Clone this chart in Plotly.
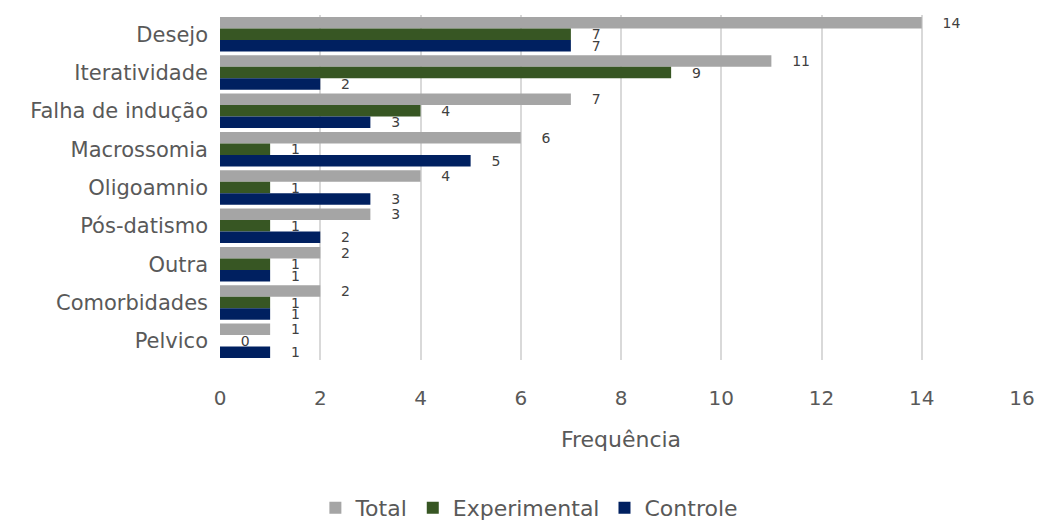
import plotly.graph_objects as go

categories = ["Desejo", "Iteratividade", "Falha de indução", "Macrossomia", "Oligoamnio",
              "Pós-datismo", "Outra", "Comorbidades", "Pelvico"]
total = [14, 11, 7, 6, 4, 3, 2, 2, 1]
experimental = [7, 9, 4, 1, 1, 1, 1, 1, 0]
controle = [7, 2, 3, 5, 3, 2, 1, 1, 1]
x_ticks = [0, 2, 4, 6, 8, 10, 12, 14, 16]

series = [("Total", total, "#A5A5A5"),
          ("Experimental", experimental, "#375623"),
          ("Controle", controle, "#002060")]

FONT = "'DejaVu Sans', sans-serif"
fig = go.Figure()
for name, vals, color in series:
    fig.add_trace(go.Bar(
        y=categories, x=vals, name=name, orientation="h",
        marker=dict(color=color, line=dict(width=0)),
        text=vals, texttemplate="    %{x}", textposition="outside",
        textfont=dict(size=14, color="#404040", family=FONT),
        constraintext="none", cliponaxis=False,
    ))

fig.update_layout(
    width=1038, height=529,
    barmode="group", bargap=0.1, bargroupgap=0,
    plot_bgcolor="white", paper_bgcolor="white",
    margin=dict(l=220, r=16, t=15, b=169),
    font=dict(family=FONT, color="#595959", size=16),
    showlegend=True,
    legend=dict(orientation="h", xref="container", yref="container",
                x=0.51, xanchor="center", y=-0.03, yanchor="bottom",
                font=dict(size=22, color="#595959"), itemwidth=30,
                traceorder="normal"),
    xaxis=dict(range=[0, 16], tickvals=x_ticks, showgrid=True, automargin=False,
               gridcolor="#D9D9D9", gridwidth=2, zeroline=False,
               showline=False, tickfont=dict(size=20),
               ticklabelstandoff=24,
               title=dict(text="Frequência", font=dict(size=22), standoff=22)),
    yaxis=dict(autorange="reversed", showgrid=False, showline=False, automargin=False,
               ticks="", tickfont=dict(size=21), ticklabelstandoff=11),
)

fig.write_html("out.html", config={"displayModeBar": False},
               post_script="document.body.style.margin='0';")
